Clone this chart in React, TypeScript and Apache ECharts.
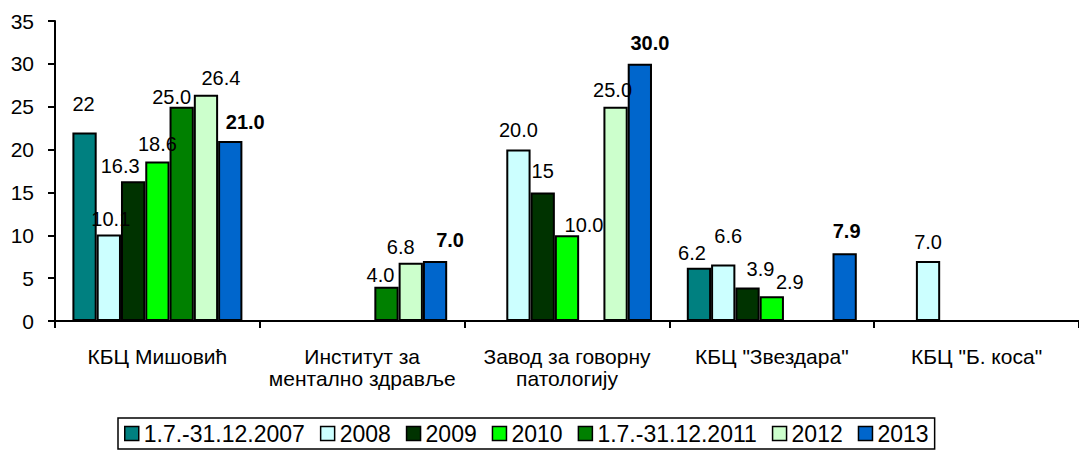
import React, { useEffect, useRef } from "react";
import * as echarts from "echarts";

const categories = [
  "КБЦ Мишовић",
  "Институт за\nментално здравље",
  "Завод за говорну\nпатологију",
  'КБЦ "Звездара"',
  'КБЦ "Б. коса"',
];
const seriesNames = ["1.7.-31.12.2007", "2008", "2009", "2010", "1.7.-31.12.2011", "2012", "2013"];
const values2007 = [22, null, null, 6.2, null];
const values2008 = [10.1, null, 20.0, 6.6, 7.0];
const values2009 = [16.3, null, 15, 3.9, null];
const values2010 = [18.6, null, 10.0, 2.9, null];
const values2011 = [25.0, 4.0, null, null, null];
const values2012 = [26.4, 6.8, 25.0, null, null];
const values2013 = [21.0, 7.0, 30.0, 7.9, null];
const yTicks = [0, 5, 10, 15, 20, 25, 30, 35];

// labels shown without decimals in the original: [seriesIndex, categoryIndex]
const wholeNumberLabels = [[0, 0], [2, 2]];

const colors = ["#008080", "#CCFFFF", "#003300", "#00FF00", "#008000", "#CCFFCC", "#0066CC"];

// manual label nudges (dx, dy) like the hand-placed labels of the original
const labelNudges = [
  [[-1, -13], null, null, [-7, 0], null],
  [[2, 0], null, [0, -5], [5, -13], [0, -4]],
  [[-13, 0], null, [0, -6], [13, -4], null],
  [[0, -3], null, [17, 5], [18, 1], null],
  [[-10, 5], [-6, 3], null, null, null],
  [[15, -2], [-10, -1], [-3, -2], null, null],
  [[15, -4], [15, -6], [10, -6], [2, -7], null],
];

const FONT = "'Liberation Sans', Arial, sans-serif";

export default function App() {
  const ref = useRef<HTMLDivElement>(null);
  useEffect(() => {
    if (!ref.current) return;
    const chart = echarts.init(ref.current, null, { renderer: "svg" });
    const allValues = [values2007, values2008, values2009, values2010, values2011, values2012, values2013];
    const series = allValues.map((vals, si) => ({
      name: seriesNames[si],
      type: "bar",
      barGap: "0%",
      barCategoryGap: "17%",
      itemStyle: { color: colors[si], borderColor: "#000", borderWidth: 2 },
      label: {
        show: true,
        position: "top",
        distance: 5,
        color: "#000",
        fontFamily: FONT,
        fontSize: 20,
        fontWeight: si === 6 ? "bold" : "normal",
        formatter: (p: any) => {
          const whole = wholeNumberLabels.some(([s, c]) => s === si && c === p.dataIndex);
          return whole ? String(p.value) : Number(p.value).toFixed(1);
        },
      },
      data: vals.map((v, ci) => {
        const n = labelNudges[si][ci];
        return v === null ? null : { value: v, label: n ? { offset: n } : undefined };
      }),
    }));
    chart.setOption({
      animation: false,
      textStyle: { fontFamily: FONT },
      grid: { left: 55, right: -11, top: 21, bottom: 133, containLabel: false },
      legend: {
        data: seriesNames,
        left: 118,
        top: 418,
        orient: "horizontal",
        icon: "rect",
        itemWidth: 14,
        itemHeight: 14,
        itemGap: 15,
        padding: [4, 6],
        borderColor: "#000",
        borderWidth: 1.5,
        itemStyle: { borderColor: "#000", borderWidth: 1.5 },
        textStyle: { fontSize: 23, color: "#000", fontFamily: FONT },
      },
      xAxis: {
        type: "category",
        data: categories,
        axisLine: { lineStyle: { color: "#000", width: 2 } },
        axisTick: { show: true, length: 7, lineStyle: { color: "#000", width: 2 } },
        axisLabel: { color: "#000", fontSize: 21, lineHeight: 22, margin: 24, fontFamily: FONT, interval: 0 },
        splitLine: { show: false },
      },
      yAxis: {
        type: "value",
        min: yTicks[0],
        max: yTicks[yTicks.length - 1],
        interval: yTicks[1] - yTicks[0],
        axisLine: { show: true, lineStyle: { color: "#000", width: 2 } },
        axisTick: { show: true, length: 7, lineStyle: { color: "#000", width: 2 } },
        axisLabel: { color: "#000", fontSize: 21, margin: 21, fontFamily: FONT },
        splitLine: { show: false },
      },
      series,
    });
    return () => chart.dispose();
  }, []);
  return (
    <div
      ref={ref}
      style={{ position: "fixed", left: 0, top: 0, width: 1079, height: 454, background: "#fff" }}
    />
  );
}
